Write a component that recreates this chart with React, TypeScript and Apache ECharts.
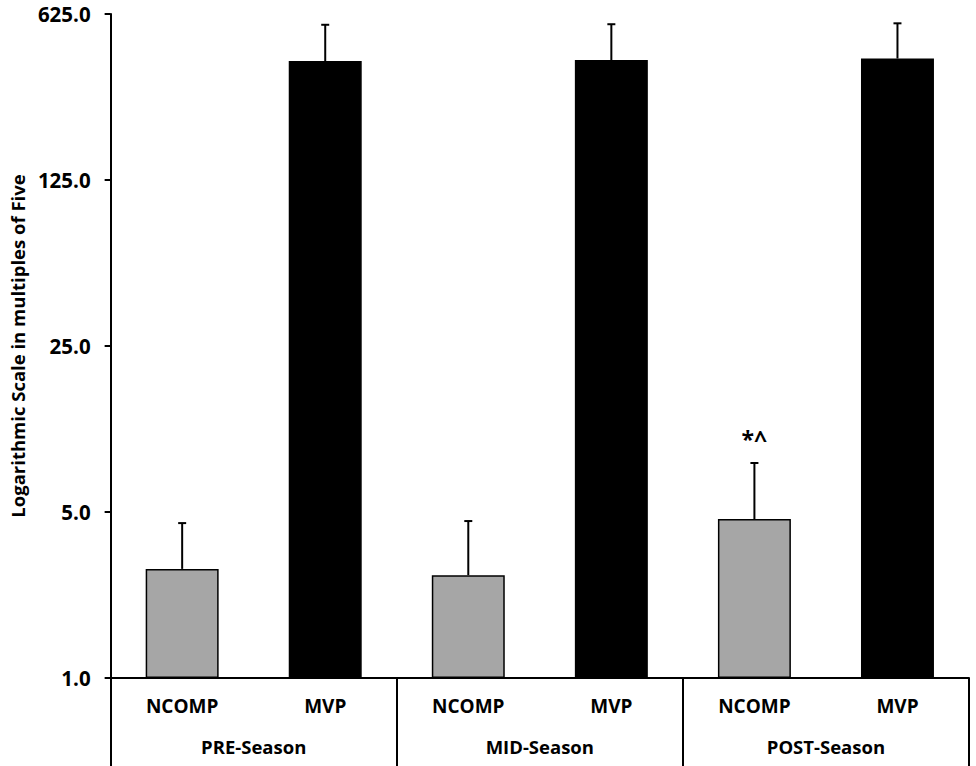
import React, { useEffect, useRef } from "react";
import * as echarts from "echarts";

const groupLabels = ["NCOMP", "MVP", "NCOMP", "MVP", "NCOMP", "MVP"];
const seasonLabels = ["PRE-Season", "MID-Season", "POST-Season"];
const meanValues = [2.88, 396, 2.71, 400, 4.67, 406];
const upperValues = [4.49, 563, 4.58, 566, 8.04, 571];
const annotations = ["", "", "", "", "*^", ""];
const barColors = ["#a6a6a6", "#000000", "#a6a6a6", "#000000", "#a6a6a6", "#000000"];
const yTicks = [1, 5, 25, 125, 625];

const FONT = "'Open Sans', 'Liberation Sans', sans-serif";

export default function App() {
  const ref = useRef<HTMLDivElement>(null);
  useEffect(() => {
    if (!ref.current) return;
    const chart = echarts.init(ref.current, null, { renderer: "svg" });
    chart.setOption({
      animation: false,
      backgroundColor: "#ffffff",
      grid: { left: 103, right: 7, top: 14, bottom: 88, containLabel: false },
      xAxis: [
        {
          type: "category",
          data: groupLabels,
          position: "bottom",
          axisLine: { show: true, lineStyle: { color: "#000", width: 2 } },
          axisTick: { show: false },
          axisLabel: {
            fontFamily: FONT,
            fontWeight: "bold",
            fontSize: 19,
            color: "#000",
            margin: 18,
            interval: 0,
          },
        },
        {
          type: "category",
          data: seasonLabels,
          position: "bottom",
          offset: 0,
          axisLine: { show: false },
          axisTick: {
            show: true,
            length: 90,
            lineStyle: { color: "#000", width: 2 },
          },
          axisLabel: {
            fontFamily: FONT,
            fontWeight: "bold",
            fontSize: 18.5,
            color: "#000",
            margin: 59,
            interval: 0,
          },
        },
      ],
      yAxis: {
        type: "log",
        logBase: 5,
        min: yTicks[0],
        max: yTicks[yTicks.length - 1],
        name: "Logarithmic Scale in multiples of Five",
        nameLocation: "middle",
        nameGap: 80,
        nameTextStyle: {
          fontFamily: FONT,
          fontWeight: "bold",
          fontSize: 18.5,
          color: "#000",
        },
        axisLine: { show: true, lineStyle: { color: "#000", width: 2 } },
        axisTick: { show: true, length: 6, lineStyle: { color: "#000", width: 2 } },
        splitLine: { show: false },
        axisLabel: {
          fontFamily: FONT,
          fontWeight: "bold",
          fontSize: 20.5,
          color: "#000",
          margin: 20,
          formatter: (v: number) => v.toFixed(1),
        },
      },
      series: [
        {
          type: "bar",
          xAxisIndex: 0,
          barCategoryGap: "49%",
          data: meanValues.map((v, i) => ({
            value: v,
            itemStyle: {
              color: barColors[i],
              borderColor: "#000",
              borderWidth: 1.5,
            },
          })),
          z: 2,
        },
        {
          type: "custom",
          xAxisIndex: 0,
          z: 3,
          data: meanValues.map((v, i) => [i, v, upperValues[i]]),
          renderItem: (params: any, api: any) => {
            const idx = api.value(0);
            const base = api.coord([idx, api.value(1)]);
            const top = api.coord([idx, api.value(2)]);
            const capHalf = 4;
            const children: any[] = [
              {
                type: "line",
                shape: { x1: base[0], y1: base[1], x2: top[0], y2: top[1] },
                style: { stroke: "#000", lineWidth: 2 },
              },
              {
                type: "line",
                shape: { x1: top[0] - capHalf, y1: top[1], x2: top[0] + capHalf, y2: top[1] },
                style: { stroke: "#000", lineWidth: 2 },
              },
            ];
            const ann = annotations[params.dataIndex];
            if (ann) {
              children.push({
                type: "text",
                style: {
                  text: ann,
                  x: top[0],
                  y: top[1] - 24,
                  align: "center",
                  verticalAlign: "middle",
                  fontFamily: FONT,
                  fontWeight: "bold",
                  fontSize: 23,
                  fill: "#000",
                },
              });
            }
            return { type: "group", children };
          },
        },
      ],
    });
    return () => chart.dispose();
  }, []);
  return <div ref={ref} style={{ width: 976, height: 766, position: "absolute", left: 0, top: 0 }} />;
}
